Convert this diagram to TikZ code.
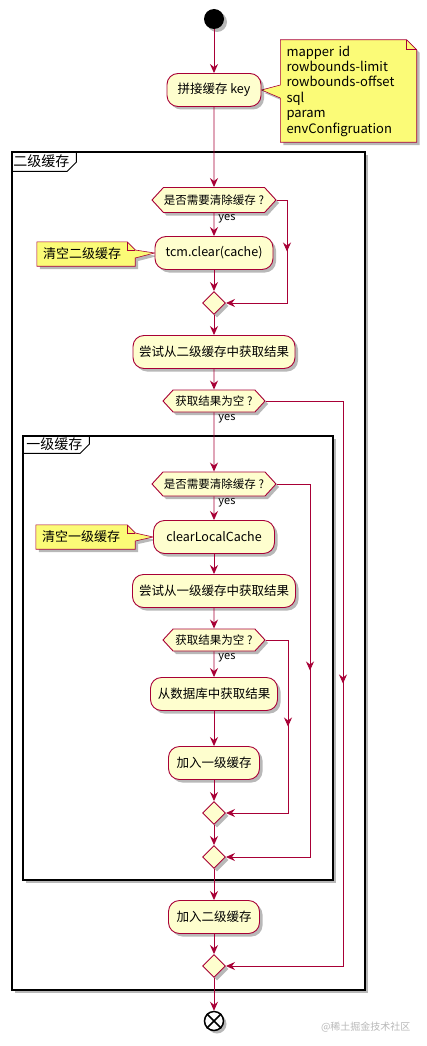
\documentclass[tikz,border=0pt]{standalone}
\usepackage{fontspec}
\setmainfont{Noto Sans CJK SC}
\usetikzlibrary{arrows.meta,positioning,calc,shapes.geometric,shapes.symbols,shadows,decorations.markings}

\definecolor{umlred}{HTML}{A80036}
\definecolor{actfill}{HTML}{FEFECE}
\definecolor{notefill}{HTML}{FBFB77}
\pgfdeclarelayer{framelayer}
\pgfdeclarelayer{notelayer}
\pgfsetlayers{framelayer,notelayer,main}

\begin{document}
\begin{tikzpicture}[x=1pt, y=-1pt, >={Stealth[length=9pt, width=8pt, inset=3pt]},
  softshadow/.style={drop shadow={shadow xshift=3pt, shadow yshift=-3pt, fill=black, opacity=0.28}},
  flow/.style={->, draw=umlred, line width=0.9pt},
  midflow/.style={decoration={markings, mark=at position 0.5 with {\arrow[color=umlred, line width=0.9pt]{>}}}, postaction={decorate}},
  act/.style={rectangle, rounded corners=11pt, draw=umlred, line width=0.9pt, fill=actfill, minimum height=33pt, inner xsep=4pt, font=\fontsize{12.5}{15}\selectfont, softshadow},
  dec/.style={signal, signal to=east and west, signal pointer angle=95, draw=umlred, line width=0.9pt, fill=actfill, inner xsep=0pt, inner ysep=0pt, font=\fontsize{11.5}{13}\selectfont, softshadow},
  merge/.style={diamond, draw=umlred, line width=0.9pt, fill=actfill, minimum size=23pt, inner sep=0pt, softshadow},
  notetext/.style={inner ysep=0pt, inner xsep=6pt, align=left, font=\fontsize{13}{15.4}\selectfont},
  notebox/.style={draw=umlred, line width=0.6pt, fill=notefill, softshadow},
  notefold/.style={draw=umlred, line width=0.6pt},
  frame/.style={draw=black, line width=1.5pt, fill=white, softshadow},
  framelabel/.style={anchor=west, inner sep=1pt, font=\fontsize{14}{16}\selectfont},
  yes/.style={anchor=north west, inner sep=1pt, xshift=3pt, font=\fontsize{11}{13}\selectfont},
  startdot/.style={circle, fill=black, minimum size=20pt, inner sep=0pt, softshadow},
  enddot/.style={circle, draw=black, line width=1.5pt, fill=white, minimum size=19pt, inner sep=0pt, softshadow}
]
\useasboundingbox (0,0) rectangle (427,1046);

\begin{pgfonlayer}{framelayer}
\node[frame, minimum width=353pt, minimum height=838pt] (l2box) at (188.5,571) {};
\node[framelabel] (l2name) at ([xshift=1pt, yshift=-10pt]l2box.north west) {二级缓存};
\draw[line width=1pt] ([yshift=-20pt]l2box.north west) -- ++(56,0) -- ++(9,-9) -- ++(0,-11);
\node[frame, minimum width=310pt, minimum height=444pt] (l1box) at (178,658) {};
\node[framelabel] (l1name) at ([xshift=3pt, yshift=-9pt]l1box.north west) {一级缓存};
\draw[line width=1pt] ([yshift=-18pt]l1box.north west) -- ++(58,0) -- ++(9,-9) -- ++(0,-9);
\end{pgfonlayer}

\node[startdot] (start) at (214,19) {};
\node[act, minimum width=94pt] (key) at (214,90) {拼接缓存 key};
\node[dec, minimum width=124pt, minimum height=25pt] (clear2) at (214,200) {是否需要清除缓存 ?};
\node[act, minimum width=118pt] (tcm) at (214,253) {tcm.clear(cache)};
\node[merge] (join1) at (214,303) {};
\node[act, minimum width=162pt] (get2) at (214,352) {尝试从二级缓存中获取结果};
\node[dec, minimum width=102pt, minimum height=22pt] (empty2) at (214,401) {获取结果为空 ?};
\node[dec, minimum width=124pt, minimum height=24pt] (clear1) at (214,484) {是否需要清除缓存 ?};
\node[act, minimum width=121pt] (local) at (214,537) {clearLocalCache};
\node[act, minimum width=163pt] (get1) at (214,591) {尝试从一级缓存中获取结果};
\node[dec, minimum width=102pt, minimum height=22pt] (empty1) at (214,640) {获取结果为空 ?};
\node[act, minimum width=127pt] (db) at (214,694) {从数据库中获取结果};
\node[act, minimum width=91pt] (put1) at (214,763) {加入一级缓存};
\node[merge] (join2) at (214,813) {};
\node[merge] (join3) at (214,857) {};
\node[act, minimum width=91pt] (put2) at (214,917) {加入二级缓存};
\node[merge] (join4) at (214,966) {};
\node[enddot] (stop) at (214,1021) {};
\draw[line width=1.5pt] (stop.north west) -- (stop.south east) (stop.north east) -- (stop.south west);

\node[notetext, text width=124pt, minimum height=102pt] (keynote) at (348.5,91) {mapper id\\rowbounds-limit\\rowbounds-offset\\sql\\param\\envConfigruation};
\node[notetext, text width=86pt, minimum height=24pt] (tcmnote) at (86,254) {清空二级缓存};
\node[notetext, text width=87pt, minimum height=24pt] (localnote) at (85.5,537) {清空一级缓存};

\begin{pgfonlayer}{notelayer}
\filldraw[notebox] (keynote.north west) -- ([xshift=-10pt]keynote.north east) -- ([yshift=-10pt]keynote.north east) -- (keynote.south east) -- (keynote.south west) -- ($(keynote.west)+(0,7)$) -- (key.east) -- ($(keynote.west)+(0,-6)$) -- cycle;
\draw[notefold] ([xshift=-10pt]keynote.north east) -- ++(0,10) -- ++(10,0);
\filldraw[notebox] (tcmnote.north west) -- ([xshift=-8pt]tcmnote.north east) -- ([yshift=-8pt]tcmnote.north east) -- ($(tcmnote.east)+(0,-4)$) -- (tcm.west) -- ($(tcmnote.east)+(0,4)$) -- (tcmnote.south east) -- (tcmnote.south west) -- cycle;
\draw[notefold] ([xshift=-8pt]tcmnote.north east) -- ++(0,8) -- ++(8,0);
\filldraw[notebox] (localnote.north west) -- ([xshift=-8pt]localnote.north east) -- ([yshift=-8pt]localnote.north east) -- ($(localnote.east)+(0,-4)$) -- (local.west) -- ($(localnote.east)+(0,4)$) -- (localnote.south east) -- (localnote.south west) -- cycle;
\draw[notefold] ([xshift=-8pt]localnote.north east) -- ++(0,8) -- ++(8,0);
\end{pgfonlayer}

\draw[flow] (start) -- (key);
\draw[flow] (key) -- (clear2);
\draw[flow] (clear2) -- node[yes, pos=0] {yes} (tcm);
\draw[flow] (tcm) -- (join1);
\draw[flow] (join1) -- (get2);
\draw[flow] (get2) -- (empty2);
\draw[flow] (empty2) -- node[yes, pos=0] {yes} (clear1);
\draw[flow] (clear1) -- node[yes, pos=0] {yes} (local);
\draw[flow] (local) -- (get1);
\draw[flow] (get1) -- (empty1);
\draw[flow] (empty1) -- node[yes, pos=0] {yes} (db);
\draw[flow] (db) -- (put1);
\draw[flow] (put1) -- (join2);
\draw[flow] (join2) -- (join3);
\draw[flow] (join3) -- (put2);
\draw[flow] (put2) -- (join4);
\draw[flow] (join4) -- (stop);

\coordinate (skip2) at (287,303);
\draw[flow] (clear2.east) -| (skip2) -- (join1.east);
\path[midflow] (clear2.east -| skip2) -- (skip2);
\coordinate (miss2) at (343,966);
\draw[flow] (empty2.east) -| (miss2) -- (join4.east);
\path[midflow] (empty2.east -| miss2) -- (miss2);
\coordinate (skip1) at (310,857);
\draw[flow] (clear1.east) -| (skip1) -- (join3.east);
\path[midflow] (clear1.east -| skip1) -- (skip1);
\coordinate (miss1) at (288,813);
\draw[flow] (empty1.east) -| (miss1) -- (join2.east);
\path[midflow] (empty1.east -| miss1) -- (miss1);

\node[text=black!28, font=\fontsize{10}{12}\selectfont, anchor=east] (credit) at (414,1027) {@稀土掘金技术社区};
\end{tikzpicture}
\end{document}
